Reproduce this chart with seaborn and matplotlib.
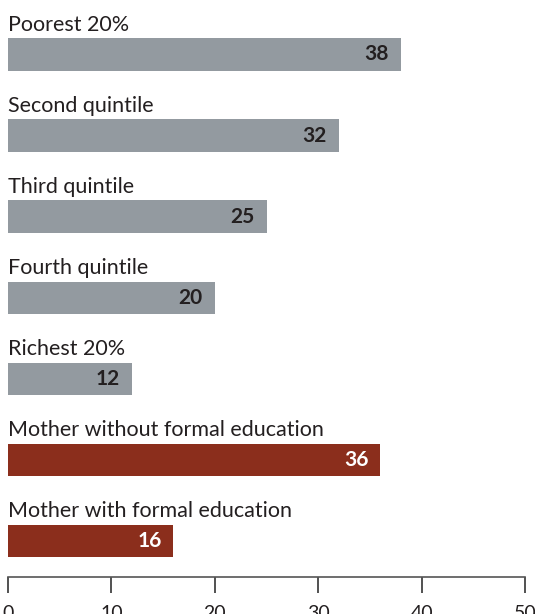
import numpy as np
import pandas as pd
import seaborn as sns
import matplotlib.pyplot as plt

# data
labels = ['Poorest 20%', 'Second quintile', 'Third quintile', 'Fourth quintile',
          'Richest 20%', 'Mother without formal education', 'Mother with formal education']
values = [38, 32, 25, 20, 12, 36, 16]
groups = ['wealth', 'wealth', 'wealth', 'wealth', 'wealth', 'education', 'education']
xticks = [0, 10, 20, 30, 40, 50]

palette = {'wealth': '#939aa0', 'education': '#8b2e1c'}
textcol = {'wealth': '#231f20', 'education': 'white'}

df = pd.DataFrame(dict(label=labels, value=values, group=groups))

sns.set_theme(style='white')
plt.rcParams['font.family'] = ['Lato', 'DejaVu Sans']

fig = plt.figure(figsize=(5.35, 6.14), dpi=100)
ax = fig.add_axes([8/535, 37/614, 517/535, 577/614])

sns.barplot(data=df, x='value', y='label', hue='group', palette=palette,
            width=0.4, dodge=False, legend=False, saturation=1, linewidth=0, ax=ax)

for i, row in df.iterrows():
    ax.text(0, i - 0.29, row['label'], ha='left', va='baseline',
            fontsize=15.5, color='#231f20')
    ax.annotate(str(row['value']), xy=(row['value'], i), xytext=(-8.6, 0),
                textcoords='offset points', ha='right', va='center',
                fontsize=15, fontweight='bold', color=textcol[row['group']])

ax.set_xlim(0, 50)
ax.set_ylim(6.444, -0.672)
ax.set_xticks(xticks)
ax.set_yticks([])
ax.set_xlabel('')
ax.set_ylabel('')
for s in ['top', 'right', 'left']:
    ax.spines[s].set_visible(False)
ax.spines['bottom'].set_color('#555555')
ax.spines['bottom'].set_linewidth(1.2)
ax.tick_params(axis='x', direction='out', length=11.5, width=1.2, color='#333333',
               pad=8.6, labelsize=14, labelcolor='#231f20', bottom=True)

fig.savefig('out.png', dpi=100)
